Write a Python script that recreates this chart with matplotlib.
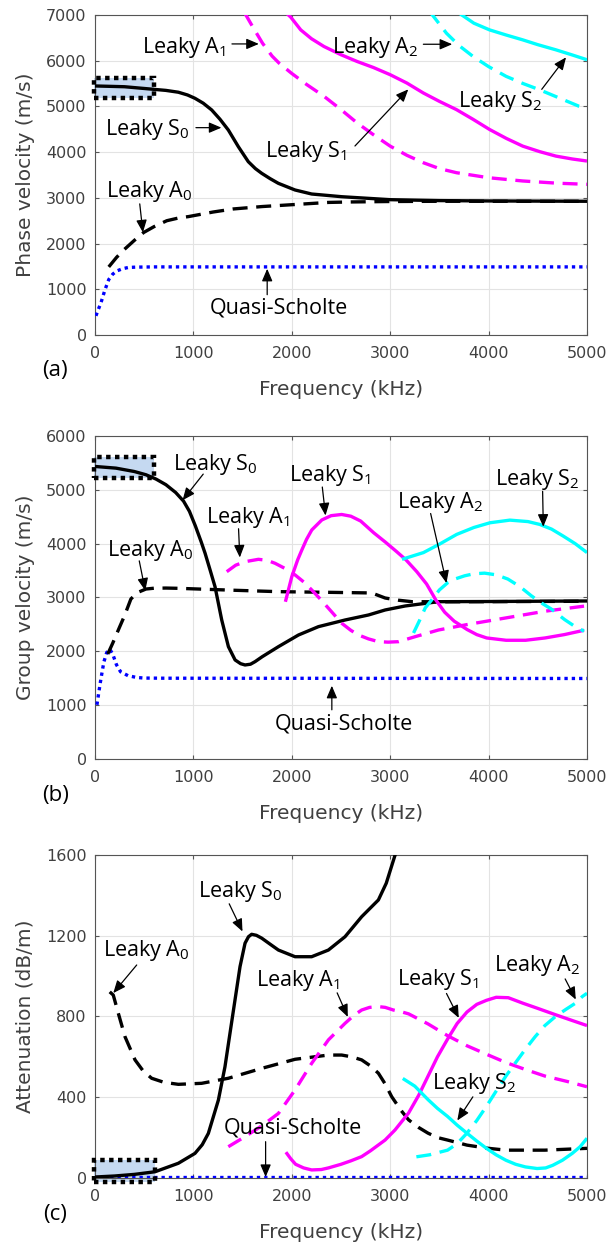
import matplotlib
matplotlib.use("Agg")
import matplotlib.pyplot as plt
from matplotlib.patches import Rectangle

plt.rcParams['font.family'] = 'DejaVu Sans'
plt.rcParams['mathtext.fontset'] = 'custom'
plt.rcParams['mathtext.rm'] = 'Open Sans'
LABEL_FONT = 'Open Sans'

MAGENTA = '#ff00ff'
CYAN = '#00ffff'
BLUE = '#0000ff'

# ---------------- phase velocity (m/s) vs frequency (kHz) ----------------
ph_s0_f = [0, 300, 593, 720, 847, 940, 1016, 1100, 1186, 1270, 1355, 1457, 1558, 1630, 1694, 1780, 1863, 2033, 2202, 2507, 3000, 3500, 4000, 5000]
ph_s0_v = [5447, 5430, 5374, 5350, 5310, 5250, 5177, 5070, 4922, 4720, 4484, 4119, 3791, 3640, 3537, 3420, 3318, 3172, 3084, 3025, 2960, 2940, 2932, 2925]

ph_a0_f = [140, 220, 300, 400, 495, 600, 730, 850, 950, 1200, 1405, 1700, 2000, 2372, 2600, 3000, 3500, 4000, 5000]
ph_a0_v = [1490, 1700, 1875, 2070, 2243, 2370, 2500, 2560, 2590, 2690, 2757, 2810, 2850, 2900, 2910, 2920, 2925, 2925, 2925]

ph_qs_f = [10, 30, 60, 100, 140, 180, 220, 280, 340, 420, 600, 1000, 5000]
ph_qs_v = [420, 540, 700, 980, 1213, 1330, 1400, 1450, 1478, 1485, 1490, 1490, 1490]

ph_a1_f = [1520, 1600, 1703, 1800, 1872, 2000, 2150, 2327, 2500, 2663, 2830, 3000, 3170, 3337, 3500, 3673, 4000, 4347, 4700, 5000]
ph_a1_v = [7050, 6750, 6380, 6100, 5944, 5720, 5480, 5221, 4930, 4640, 4380, 4131, 3930, 3768, 3640, 3550, 3440, 3369, 3320, 3296]

ph_s1_f = [1940, 1990, 2091, 2200, 2327, 2500, 2663, 2830, 3000, 3170, 3337, 3500, 3673, 3840, 4010, 4180, 4347, 4520, 4684, 4850, 5000]
ph_s1_v = [7050, 6950, 6673, 6480, 6310, 6130, 5983, 5850, 5693, 5510, 5293, 5110, 4930, 4720, 4495, 4300, 4131, 4010, 3913, 3850, 3805]

ph_a2_f = [3400, 3572, 3700, 3842, 4000, 4178, 4350, 4515, 4700, 4919, 5000]
ph_a2_v = [7080, 6600, 6330, 6092, 5870, 5657, 5500, 5366, 5200, 5003, 4960]

ph_s2_f = [3700, 3850, 4010, 4180, 4347, 4500, 4684, 4850, 5000]
ph_s2_v = [7040, 6820, 6673, 6560, 6455, 6350, 6237, 6125, 6020]

# ---------------- group velocity (m/s) ----------------
gr_s0_f = [0, 213, 400, 518, 620, 721, 820, 900, 960, 1020, 1080, 1119, 1170, 1220, 1288, 1356, 1424, 1480, 1525,
           1580, 1627, 1700, 1864, 2068, 2271, 2542, 2780, 2949, 3152, 3491, 4000, 5000]
gr_s0_v = [5434, 5403, 5340, 5280, 5200, 5095, 4950, 4790, 4600, 4330, 4030, 3821, 3510, 3200, 2582, 2086, 1839, 1770, 1746,
           1760, 1808, 1900, 2086, 2303, 2458, 2582, 2675, 2768, 2842, 2922, 2925, 2935]

gr_a0_f = [130, 180, 250, 300, 365, 430, 518, 600, 721, 847, 1398, 1864, 2400, 2813, 2949, 3080, 3220, 3500, 4000, 5000]
gr_a0_v = [1950, 2150, 2450, 2660, 2972, 3090, 3157, 3172, 3175, 3170, 3135, 3108, 3095, 3084, 2990, 2950, 2922, 2920, 2922, 2930]

gr_qs_f = [20, 40, 59, 90, 120, 150, 180, 218, 260, 336, 420, 495, 700, 5000]
gr_qs_v = [1006, 1250, 1472, 1800, 1980, 2040, 1950, 1752, 1620, 1547, 1515, 1503, 1500, 1495]

gr_a1_f = [1339, 1430, 1525, 1661, 1750, 1830, 1930, 2034, 2120, 2203, 2290, 2373, 2508, 2600, 2678, 2780, 2881, 2980,
           3085, 3254, 3491, 3782, 4178, 4574, 4970]
gr_a1_v = [3479, 3600, 3665, 3709, 3690, 3635, 3540, 3418, 3290, 3139, 2970, 2799, 2520, 2390, 2303, 2230, 2179, 2170,
           2179, 2272, 2396, 2497, 2621, 2745, 2839]

gr_s1_f = [1935, 2000, 2060, 2102, 2150, 2203, 2305, 2400, 2507, 2600, 2700, 2832, 2950, 3060, 3160, 3270, 3370, 3465,
           3554, 3650, 3782, 3880, 3980, 4178, 4376, 4574, 4772, 4970]
gr_s1_v = [2920, 3386, 3700, 3882, 4080, 4254, 4440, 4520, 4542, 4510, 4420, 4203, 4030, 3860, 3700, 3480, 3250, 2950,
           2726, 2560, 2404, 2310, 2248, 2205, 2205, 2248, 2311, 2391]

gr_a2_f = [3237, 3300, 3356, 3424, 3500, 3588, 3670, 3757, 3850, 3959, 4080, 4196, 4320, 4432, 4535, 4635, 4772, 4870, 4970]
gr_a2_v = [2340, 2580, 2805, 2960, 3140, 3280, 3350, 3403, 3440, 3452, 3420, 3342, 3200, 3034, 2900, 2788, 2590, 2470, 2373]

gr_s2_f = [3120, 3338, 3500, 3676, 3850, 4014, 4216, 4400, 4520, 4640, 4757, 4880, 5000]
gr_s2_v = [3709, 3834, 3990, 4172, 4300, 4388, 4437, 4410, 4357, 4270, 4142, 4000, 3834]

# ---------------- attenuation (dB/m) ----------------
at_s0_f = [0, 200, 400, 610, 847, 1016, 1090, 1152, 1254, 1321, 1372, 1423, 1474, 1525, 1560, 1592, 1640, 1694,
           1780, 1864, 2033, 2202, 2372, 2541, 2710, 2880, 2960, 3050, 3120]
at_s0_v = [5, 10, 18, 31, 73, 122, 165, 221, 386, 551, 717, 882, 1047, 1163, 1195, 1207, 1202, 1188,
           1158, 1129, 1096, 1096, 1129, 1195, 1294, 1377, 1460, 1600, 1720]

at_a0_f = [150, 186, 237, 305, 407, 490, 576, 700, 847, 1084, 1355, 1694, 2033, 2372, 2507, 2610, 2710, 2800, 2880,
           2950, 3015, 3110, 3187, 3290, 3385, 3483, 3583, 3780, 3980, 4176, 4572, 5000]
at_a0_v = [922, 906, 816, 700, 585, 530, 494, 474, 464, 469, 494, 543, 588, 609, 609, 600, 585, 555, 519,
           465, 403, 335, 288, 250, 222, 200, 188, 163, 148, 138, 138, 147]

at_qs_f = [0, 5000]
at_qs_v = [4, 4]

at_a1_f = [1355, 1525, 1700, 1864, 2033, 2202, 2372, 2541, 2630, 2710, 2790, 2880, 2950, 3032, 3100, 3187, 3385, 3583,
           3780, 3978, 4176, 4370, 4572, 4800, 5000]
at_a1_v = [155, 205, 260, 320, 436, 568, 684, 766, 805, 832, 845, 849, 845, 832, 825, 813, 763, 705,
           655, 613, 572, 538, 505, 478, 452]

at_s1_f = [1940, 1990, 2039, 2120, 2202, 2300, 2372, 2500, 2600, 2710, 2800, 2948, 3049, 3187, 3290, 3385, 3480,
           3583, 3680, 3780, 3880, 3978, 4077, 4200, 4347, 4500, 4684, 4850, 5000]
at_s1_v = [128, 95, 68, 50, 40, 42, 50, 68, 85, 106, 135, 188, 238, 322, 410, 505, 600,
           688, 765, 822, 860, 880, 895, 893, 866, 840, 808, 780, 755]

at_s2_f = [3128, 3250, 3385, 3480, 3583, 3680, 3780, 3880, 3978, 4076, 4176, 4275, 4374, 4493, 4580, 4652, 4750, 4850, 4930, 5000]
at_s2_v = [493, 455, 388, 345, 305, 262, 222, 183, 147, 115, 88, 68, 55, 47, 50, 63, 88, 122, 155, 197]

at_a2_f = [3266, 3400, 3583, 3680, 3780, 3880, 3978, 4076, 4176, 4275, 4374, 4473, 4572, 4680, 4785, 4880, 4953, 5000]
at_a2_v = [105, 115, 138, 170, 222, 285, 355, 430, 505, 572, 638, 700, 755, 800, 835, 865, 899, 915]

freq_ticks = [0, 1000, 2000, 3000, 4000, 5000]

SOLID = '-'
DASH = (0, (4.5, 2.6))
DOT = (0, (1, 1.2))


def mode_name(letter, n):
    return 'Leaky ' + letter + r'$\mathregular{_%d}$' % n


def draw_curves(ax, curves):
    for f, v, color, ls in curves:
        ax.plot(f, v, color=color, ls=ls, lw=2.4, zorder=3,
                solid_capstyle='butt', dash_capstyle='butt', solid_joinstyle='round')


def tag(ax, text, at, tail, head):
    ax.text(at[0], at[1], text, family=LABEL_FONT, fontsize=15.5, ha='center', va='baseline', zorder=6)
    ax.annotate('', xy=head, xytext=tail,
                arrowprops=dict(arrowstyle='-|>,head_length=0.75,head_width=0.32', color='k',
                                lw=0.9, shrinkA=0, shrinkB=0), zorder=6)


def low_freq_box(ax, f0, f1, v0, v1):
    ax.add_patch(Rectangle((f0, v0), f1 - f0, v1 - v0, facecolor='#c5d9f1', edgecolor='none',
                           zorder=2, clip_on=False))
    ax.add_patch(Rectangle((f0, v0), f1 - f0, v1 - v0, fill=False, edgecolor='k', lw=3.2,
                           ls=(0, (1, 1)), zorder=5, clip_on=False))


def style_axes(ax, ymax, ystep, ylabel, letter):
    ax.set_xlim(0, 5000)
    ax.set_ylim(0, ymax)
    ax.set_xticks(freq_ticks)
    ax.set_yticks(list(range(0, ymax + 1, ystep)))
    ax.grid(True, color='#e3e3e3', lw=0.8)
    ax.set_axisbelow(True)
    for s in ax.spines.values():
        s.set_color('#555555')
        s.set_linewidth(0.8)
    ax.tick_params(direction='in', length=3, top=True, right=True, color='#555555',
                   labelcolor='#404040', labelsize=11.5)
    ax.tick_params(axis='x', pad=8)
    ax.tick_params(axis='y', pad=6)
    ax.set_xlabel('Frequency (kHz)', fontsize=14.5, color='#404040')
    ax.set_ylabel(ylabel, fontsize=14.5, color='#404040')
    ax.xaxis.label.set_va('center')
    ax.yaxis.label.set_va('center')
    ax.xaxis.set_label_coords(0.5, -0.169)
    ax.yaxis.set_label_coords(-0.142, 0.5)
    ax.text(-0.081, -0.112, letter, transform=ax.transAxes, family=LABEL_FONT, fontsize=16,
            ha='center', va='center')


fig = plt.figure(figsize=(6.1, 12.45), dpi=100)
ax_a = fig.add_axes([0.1557, 0.7309, 0.8066, 0.2571])
ax_b = fig.add_axes([0.1557, 0.3904, 0.8066, 0.2594])
ax_c = fig.add_axes([0.1557, 0.0538, 0.8066, 0.2595])

# (a) phase velocity
style_axes(ax_a, 7000, 1000, 'Phase velocity (m/s)', '(a)')
low_freq_box(ax_a, -15, 600, 5177, 5615)
draw_curves(ax_a, [
    (ph_qs_f, ph_qs_v, BLUE, DOT),
    (ph_a0_f, ph_a0_v, 'k', DASH),
    (ph_s0_f, ph_s0_v, 'k', SOLID),
    (ph_a1_f, ph_a1_v, MAGENTA, DASH),
    (ph_s1_f, ph_s1_v, MAGENTA, SOLID),
    (ph_a2_f, ph_a2_v, CYAN, DASH),
    (ph_s2_f, ph_s2_v, CYAN, SOLID),
])
tag(ax_a, mode_name('A', 1), (900, 6162), (1392, 6366), (1665, 6366))
tag(ax_a, mode_name('S', 0), (528, 4375), (1026, 4535), (1285, 4535))
tag(ax_a, mode_name('A', 2), (2846, 6162), (3337, 6359), (3630, 6359))
tag(ax_a, mode_name('S', 1), (2145, 3900), (2642, 4134), (3184, 5373))
tag(ax_a, mode_name('S', 2), (4124, 4994), (4540, 5373), (4787, 6073))
tag(ax_a, mode_name('A', 0), (554, 3015), (455, 2868), (487, 2243))
tag(ax_a, 'Quasi-Scholte', (1870, 478), (1750, 882), (1750, 1449))

# (b) group velocity
style_axes(ax_b, 6000, 1000, 'Group velocity (m/s)', '(b)')
low_freq_box(ax_b, -15, 600, 5218, 5618)
draw_curves(ax_b, [
    (gr_qs_f, gr_qs_v, BLUE, DOT),
    (gr_a0_f, gr_a0_v, 'k', DASH),
    (gr_s0_f, gr_s0_v, 'k', SOLID),
    (gr_a1_f, gr_a1_v, MAGENTA, DASH),
    (gr_s1_f, gr_s1_v, MAGENTA, SOLID),
    (gr_a2_f, gr_a2_v, CYAN, DASH),
    (gr_s2_f, gr_s2_v, CYAN, SOLID),
])
tag(ax_b, mode_name('S', 0), (1228, 5372), (1100, 5292), (890, 4806))
tag(ax_b, mode_name('A', 1), (1558, 4388), (1459, 4277), (1472, 3742))
tag(ax_b, mode_name('A', 0), (560, 3772), (450, 3680), (511, 3126))
tag(ax_b, mode_name('S', 1), (2390, 5157), (2310, 5052), (2343, 4523))
tag(ax_b, mode_name('A', 2), (3513, 4665), (3411, 4560), (3572, 3268))
tag(ax_b, mode_name('S', 2), (4498, 5095), (4549, 4972), (4556, 4314))
tag(ax_b, 'Quasi-Scholte', (2534, 540), (2407, 913), (2407, 1360))

# (c) attenuation
style_axes(ax_c, 1600, 400, 'Attenuation (dB/m)', '(c)')
low_freq_box(ax_c, -15, 610, -20, 88)
draw_curves(ax_c, [
    (at_qs_f, at_qs_v, BLUE, DOT),
    (at_a0_f, at_a0_v, 'k', DASH),
    (at_s0_f, at_s0_v, 'k', SOLID),
    (at_a1_f, at_a1_v, MAGENTA, DASH),
    (at_s1_f, at_s1_v, MAGENTA, SOLID),
    (at_a2_f, at_a2_v, CYAN, DASH),
    (at_s2_f, at_s2_v, CYAN, SOLID),
])
tag(ax_c, mode_name('S', 0), (1482, 1394), (1364, 1358), (1499, 1221))
tag(ax_c, mode_name('A', 0), (526, 1098), (424, 1055), (186, 916))
tag(ax_c, mode_name('A', 1), (2060, 950), (2461, 917), (2569, 798))
tag(ax_c, mode_name('S', 1), (3488, 955), (3572, 914), (3697, 793))
tag(ax_c, mode_name('A', 2), (4498, 1024), (4778, 986), (4886, 884))
tag(ax_c, mode_name('S', 2), (3860, 442), (3840, 402), (3682, 285))
tag(ax_c, 'Quasi-Scholte', (2007, 222), (1734, 180), (1734, 5))

fig.savefig('out.png', dpi=100)
